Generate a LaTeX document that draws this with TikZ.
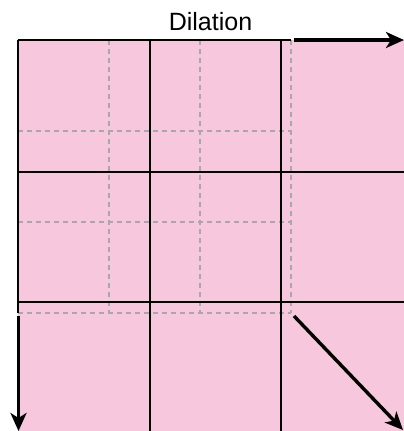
\documentclass[tikz,border=0pt]{standalone}
\usepackage{fontspec}
\setmainfont{Liberation Sans}
\usetikzlibrary{arrows.meta}
\definecolor{pinkfill}{RGB}{247,200,221}
\definecolor{dashgray}{RGB}{168,168,168}
\tikzset{
  gridline/.style={black, line width=2pt},
  dashline/.style={dashgray, line width=1.6pt, dash pattern=on 5pt off 4pt},
  bigarrow/.style={black, line width=3.4pt, -{Stealth[length=18pt,width=16pt,inset=5pt]}},
  title/.style={font=\fontsize{25}{29}\selectfont, anchor=base, inner sep=0pt}
}
\begin{document}
\begin{tikzpicture}[x=1pt,y=-1pt]
\useasboundingbox (0,0) rectangle (404,431);
\fill[pinkfill] (18,40) rectangle (404,431);
% dashed kernel grid
\foreach \x in {109,200,291} \draw[dashline] (\x,40) -- (\x,313);
\foreach \y in {131,222,313} \draw[dashline] (18,\y) -- (291,\y);
% black grid
\draw[gridline] (18,40) -- (291,40);
\draw[gridline] (18,40) -- (18,313);
\foreach \x in {149.5,281} \draw[gridline] (\x,40) -- (\x,431);
\foreach \y in {171.5,302} \draw[gridline] (18,\y) -- (404,\y);
% title
\node[title] (t) at (210.5,30) {Dilation};
% arrows
\coordinate (a1s) at (294,40);
\coordinate (a1e) at (404,40);
\coordinate (a2s) at (18.5,316);
\coordinate (a2e) at (18.5,431);
\coordinate (a3s) at (294,316);
\coordinate (a3e) at (403,430);
\draw[bigarrow] (a1s) -- (a1e);
\draw[bigarrow] (a2s) -- (a2e);
\draw[bigarrow] (a3s) -- (a3e);
\end{tikzpicture}
\end{document}
